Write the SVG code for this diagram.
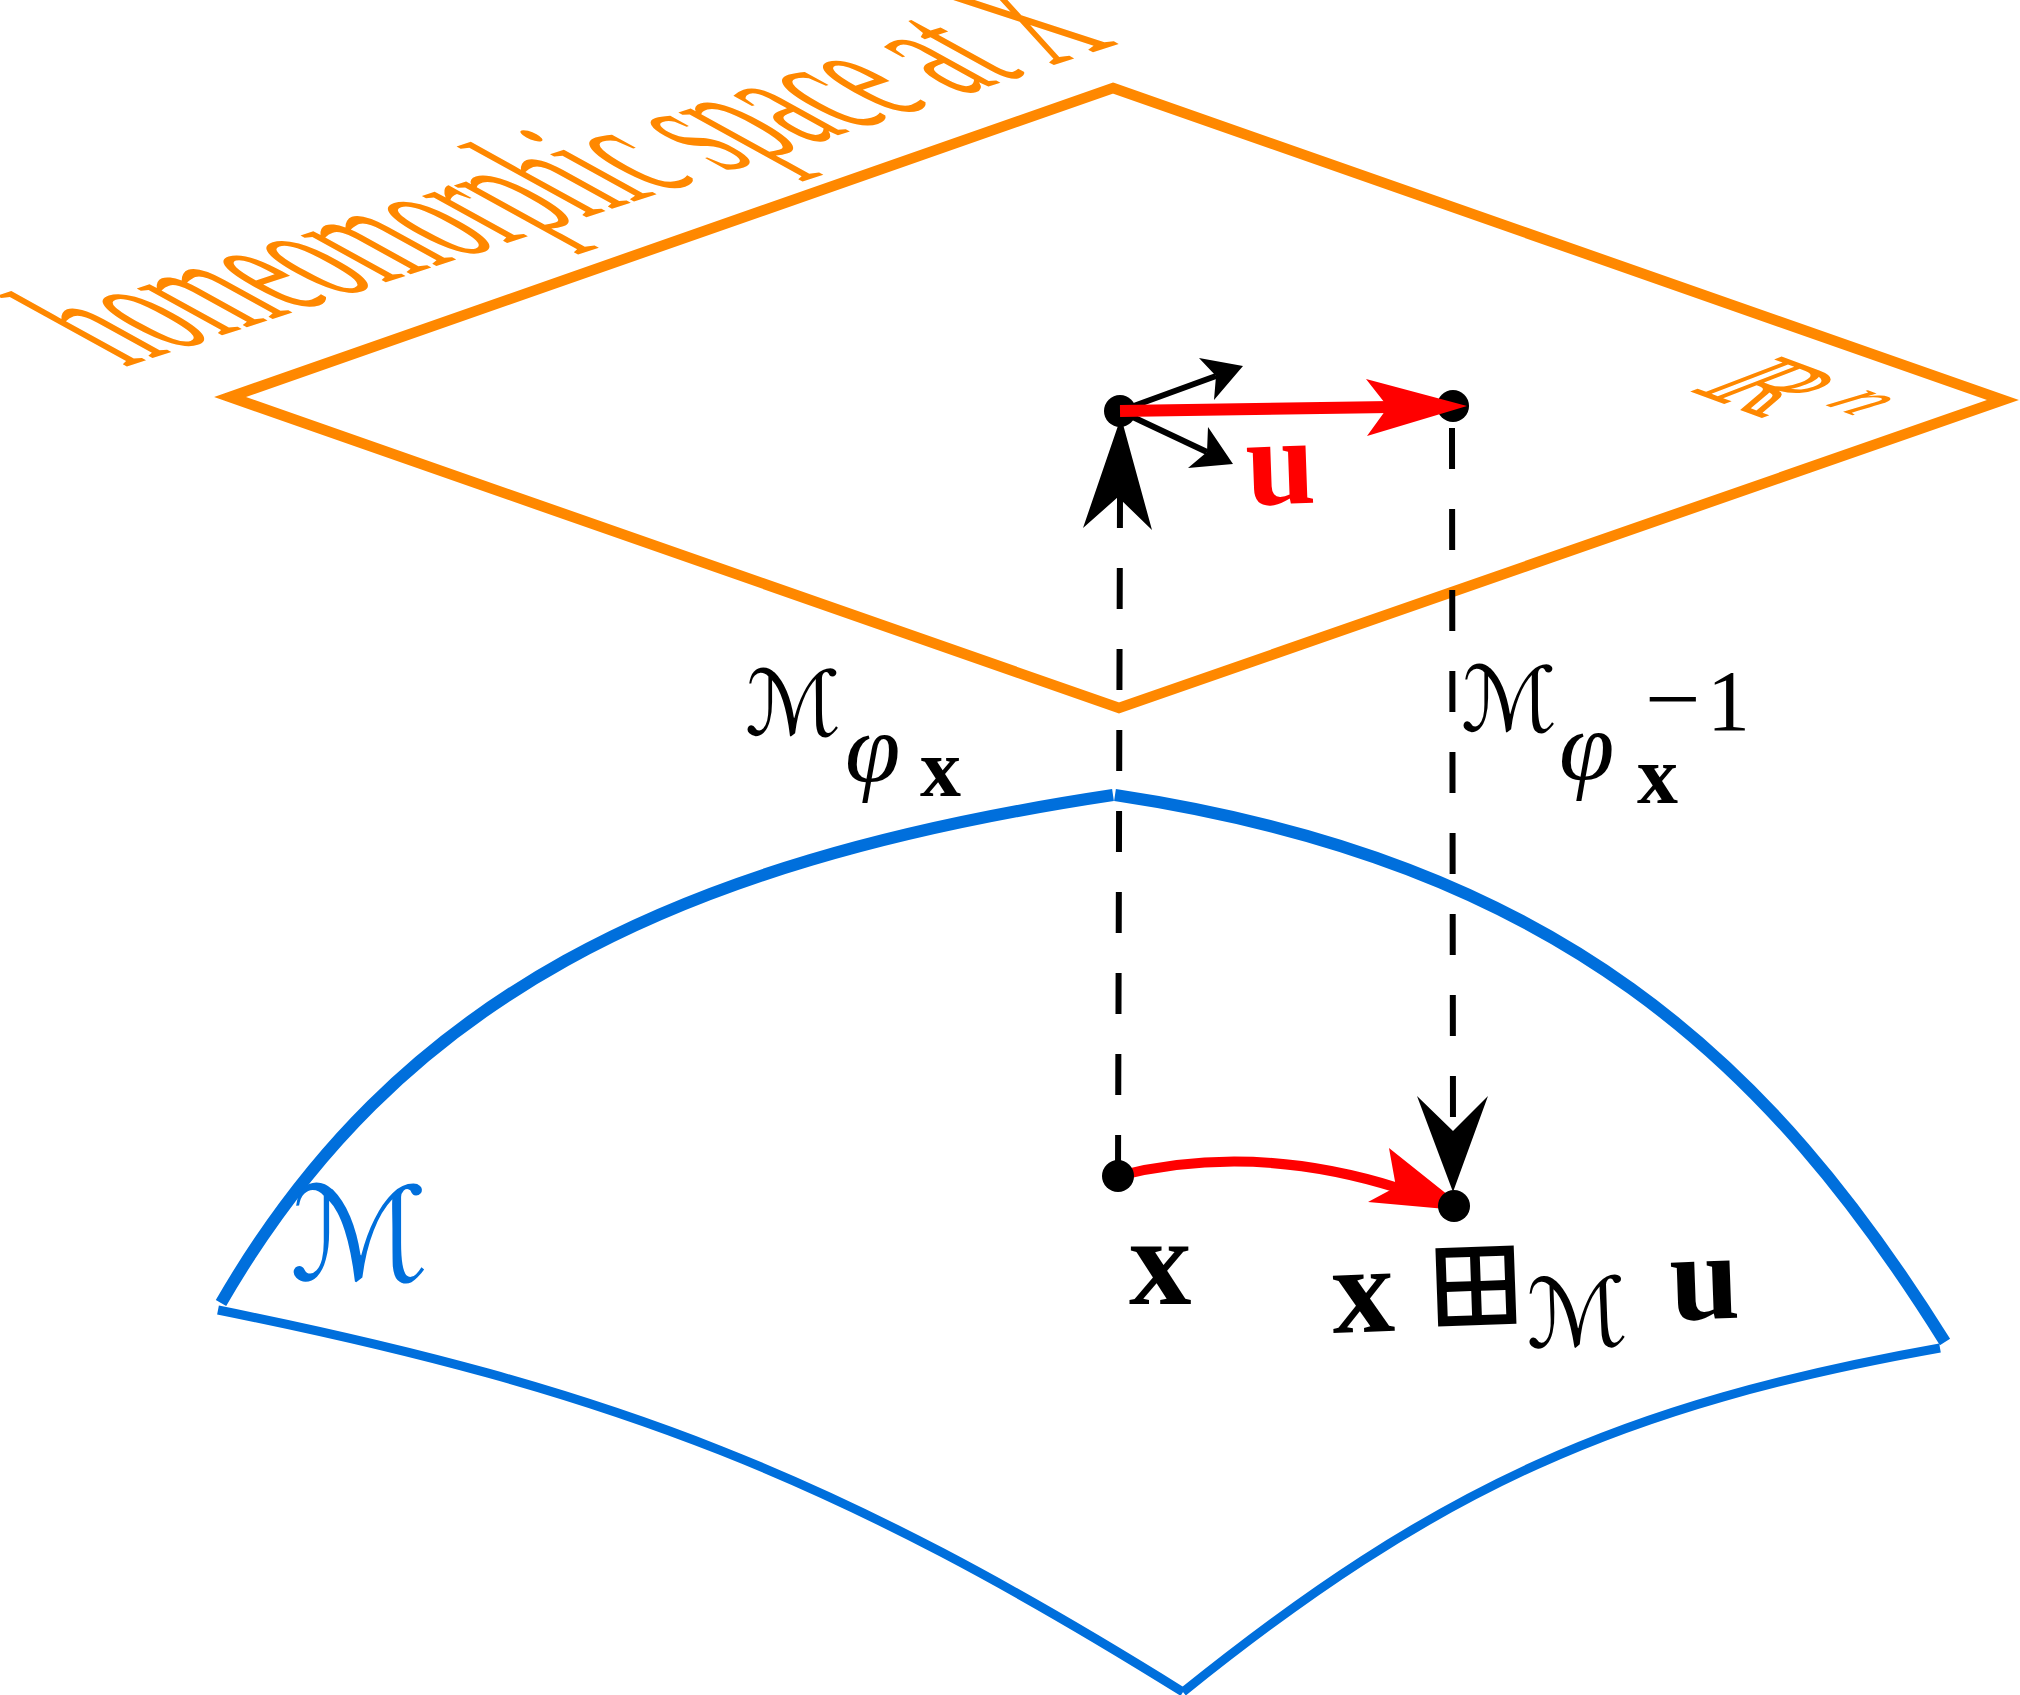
<svg xmlns="http://www.w3.org/2000/svg" width="2020" height="1695" viewBox="0 0 2020 1695">
<style>
.plane{fill:none;stroke:#FF8800;stroke-width:10.5;stroke-linejoin:miter}
.mtop{fill:none;stroke:#006FDC;stroke-width:12}
.mbot{fill:none;stroke:#006FDC;stroke-width:9}
.dash{fill:none;stroke:#000;stroke-width:6;stroke-dasharray:41 40}
.blk{fill:none;stroke:#000;stroke-width:6}
.red{fill:none;stroke:#FF0000;stroke-width:12}
.redc{fill:none;stroke:#FF0000;stroke-width:10}
.head{fill:#000}
.rhead{fill:#FF0000}
.dot{fill:#000}
.serif{font-family:"Liberation Serif","DejaVu Serif",serif}
.math{font-family:"DejaVu Sans","DejaVu Serif",sans-serif}
.orng{fill:#FF8800}
</style>
<g id="plane">
<polygon class="plane" points="1113,88 2003,400 1119,708 230,397"/>
</g>
<g id="manifold">
<path class="mtop" d="M1113,795 C668,862 396,1000 221,1303"/>
<path class="mtop" d="M1115,795 C1560,862 1770,1062 1945,1342"/>
<path class="mbot" d="M218,1310 C616,1390 838,1477 1183,1692"/>
<path class="mbot" d="M1183,1692 C1436,1488 1620,1405 1940,1348"/>
</g>
<g id="label-homeomorphic" transform="matrix(0.951 -0.309 1.857 1.024 125 367)">
<text class="serif orng" x="0" y="0" font-size="100">homeomorphic space at X</text>
</g>
<g id="label-Rn" transform="matrix(0.872 0.322 -1.205 0.461 1686 390)">
<text class="orng" x="0" y="0" font-size="104" font-family="DejaVu Serif, serif">ℝ</text>
<text class="serif orng" x="102" y="-40" font-size="74" font-style="italic">n</text>
</g>
<g id="node-x0"><circle class="dot" cx="1120" cy="411" r="16"/></g>
<g id="node-u"><circle class="dot" cx="1453" cy="406" r="16"/></g>
<g id="connectors">
<path class="dash" d="M1118,1176 L1120,497"/>
<path class="head" d="M1121,417 L1152,530 L1118,497 L1083,528 Z"/>
<path class="dash" d="M1452,428 L1453,1131"/>
<path class="head" d="M1453,1192 L1417,1096 L1453,1131 L1488,1096 Z"/>
<path class="blk" d="M1120,411 L1216,376"/>
<path class="head" d="M1243,366 L1199,358 L1216,376 L1214,400 Z"/>
<path class="blk" d="M1120,411 L1207,452"/>
<path class="head" d="M1233,464 L1208,427 L1207,452 L1188,468 Z"/>
<path class="red" d="M1120,411 L1390,407"/>
<path class="rhead" d="M1467,406 L1366,379 L1388,407 L1367,436 Z"/>
<path class="redc" d="M1118,1176 Q1252,1142 1398,1188"/>
<path class="rhead" d="M1468,1211 L1389,1148 L1396,1187 L1368,1202 Z"/>
</g>
<g id="node-x"><circle class="dot" cx="1118" cy="1176" r="16"/></g>
<g id="node-xu"><circle class="dot" cx="1454" cy="1206" r="16"/></g>
<g id="label-u">
<text class="serif" x="1247" y="505" font-size="125" font-weight="bold" fill="#FF0000" transform="rotate(-2 1247 505)">u</text>
</g>
<g id="label-phi">
<text class="math" x="745" y="735" font-size="90">ℳ</text>
<text class="serif" x="845" y="782" font-size="100" font-style="italic">φ</text>
<text class="serif" x="920" y="796" font-size="82" font-weight="bold">x</text>
</g>
<g id="label-phiinv">
<text class="math" x="1461" y="731" font-size="90">ℳ</text>
<text class="serif" x="1559" y="780" font-size="100" font-style="italic">φ</text>
<text class="serif" x="1637" y="803" font-size="82" font-weight="bold">x</text>
<text class="serif" x="1645" y="728" font-size="86" textLength="56" lengthAdjust="spacingAndGlyphs">−</text>
<text class="serif" x="1707" y="730" font-size="86">1</text>
</g>
<g id="label-M">
<text class="math" x="290" y="1280" font-size="130" fill="#006FDC">ℳ</text>
</g>
<g id="label-x">
<text class="serif" x="1129" y="1304" font-size="125" font-weight="bold">x</text>
</g>
<g id="label-exp">
<text class="serif" x="1333" y="1333" font-size="125" font-weight="bold" transform="rotate(-2 1333 1333)">x</text>
<text class="math" x="1425" y="1327" font-size="125" font-weight="200" transform="rotate(-2 1425 1327)">⊞</text>
<text class="math" x="1527" y="1348" font-size="95" transform="rotate(-2 1527 1348)">ℳ</text>
<text class="serif" x="1671" y="1320" font-size="125" font-weight="bold" transform="rotate(-2 1671 1320)">u</text>
</g>
</svg>
